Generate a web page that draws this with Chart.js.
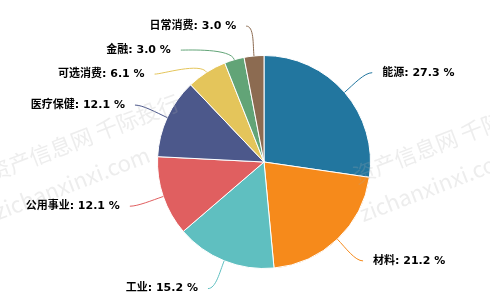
<!DOCTYPE html>
<html>
<head>
<meta charset="utf-8">
<script src="https://cdn.jsdelivr.net/npm/chart.js@4.4.0/dist/chart.umd.min.js"></script>
<style>
  html, body { margin: 0; padding: 0; background: #fff; }
  #wrap { width: 490px; height: 307px; position: relative; }
</style>
</head>
<body>
<div id="wrap"><canvas id="pieChart"></canvas></div>
<script>
// Chart data
const sectors = ['能源', '材料', '工业', '公用事业', '医疗保健', '可选消费', '金融', '日常消费'];
const shares = [27.3, 21.2, 15.2, 12.1, 12.1, 6.1, 3.0, 3.0];
const sliceColors = ['#22769f', '#f68a1b', '#5fbfc0', '#e05f60', '#4c588b', '#e4c55b', '#62a477', '#8c6b51'];
const watermarkLines = ['资产信息网 千际投行', 'zichanxinxi.com'];

// Outside labels with soft connectors (Highcharts-like)
const outsideLabels = {
  id: 'outsideLabels',
  afterDatasetsDraw(chart) {
    const ctx = chart.ctx;
    const meta = chart.getDatasetMeta(0);
    const dist = 30;
    const gap = 24;
    const items = meta.data.map((arc, i) => {
      const mid = (arc.startAngle + arc.endAngle) / 2;
      const R = arc.outerRadius + dist;
      return {
        i: i,
        mid: mid,
        cx: arc.x,
        cy: arc.y,
        r: arc.outerRadius,
        R: R,
        side: Math.cos(mid) >= 0 ? 1 : -1,
        y: arc.y + Math.sin(mid) * R
      };
    });

    // push overlapping labels down on each side
    [1, -1].forEach(side => {
      const list = items.filter(it => it.side === side).sort((a, b) => a.y - b.y);
      for (let k = 1; k < list.length; k++) {
        if (list[k].y < list[k - 1].y + gap) list[k].y = list[k - 1].y + gap;
      }
    });

    ctx.save();
    ctx.font = 'bold 11px "DejaVu Sans", "Noto Sans CJK SC", sans-serif';
    ctx.textBaseline = 'middle';
    items.forEach(it => {
      const dy = it.y - it.cy;
      const dx = Math.max(Math.sqrt(Math.max(it.R * it.R - dy * dy, 0)), 12);
      const anchorX = it.cx + it.side * dx;
      const endX = anchorX + it.side * 5;
      const ex = it.cx + Math.cos(it.mid) * it.r;
      const ey = it.cy + Math.sin(it.mid) * it.r;
      const c1x = ex + Math.cos(it.mid) * 12;
      const c1y = ey + Math.sin(it.mid) * 12;

      ctx.beginPath();
      ctx.strokeStyle = sliceColors[it.i];
      ctx.lineWidth = 1;
      ctx.moveTo(ex, ey);
      ctx.bezierCurveTo(c1x, c1y, endX - it.side * 8, it.y, endX, it.y);
      ctx.stroke();

      ctx.fillStyle = '#000';
      ctx.textAlign = it.side > 0 ? 'left' : 'right';
      const text = sectors[it.i] + ': ' + shares[it.i].toFixed(1) + ' %';
      ctx.fillText(text, anchorX + it.side * 15, it.y);
    });
    ctx.restore();
  }
};

// Faint watermark over the chart
const watermark = {
  id: 'watermark',
  afterDraw(chart) {
    const ctx = chart.ctx;
    ctx.save();
    ctx.fillStyle = 'rgba(175, 175, 175, 0.22)';
    ctx.font = '22px "Noto Sans CJK SC", sans-serif';
    ctx.textBaseline = 'alphabetic';
    [[-8, 182], [357, 184]].forEach(p => {
      ctx.save();
      ctx.translate(p[0], p[1]);
      ctx.rotate(-21 * Math.PI / 180);
      ctx.fillText(watermarkLines[0], 0, 0);
      ctx.fillText(watermarkLines[1], -8, 38);
      ctx.restore();
    });
    ctx.restore();
  }
};

const ctx = document.getElementById('pieChart').getContext('2d');
new Chart(ctx, {
  type: 'pie',
  data: {
    labels: sectors,
    datasets: [{
      data: shares,
      backgroundColor: sliceColors,
      borderColor: '#ffffff',
      borderWidth: 1
    }]
  },
  options: {
    responsive: true,
    maintainAspectRatio: false,
    animation: false,
    layout: {
      padding: { top: 55, bottom: 38, left: 157, right: 119 }
    },
    plugins: {
      legend: { display: false },
      tooltip: { enabled: false }
    }
  },
  plugins: [outsideLabels, watermark]
});
</script>
</body>
</html>
